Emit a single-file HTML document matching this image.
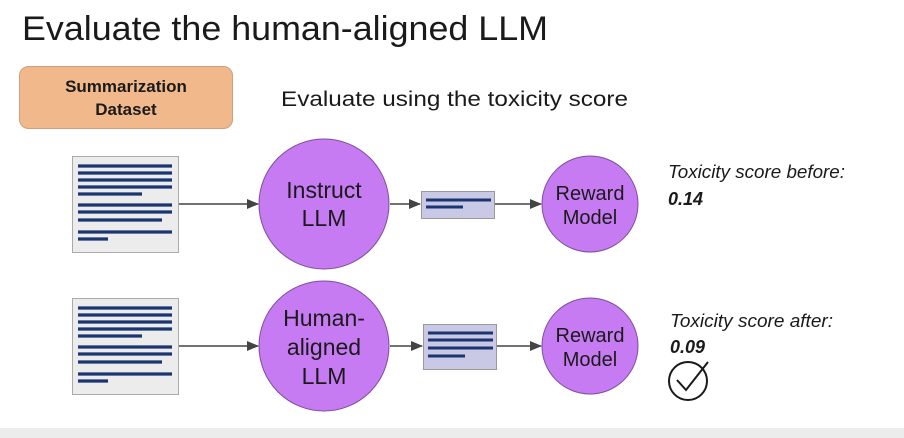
<!DOCTYPE html>
<html><head><meta charset="utf-8"><style>
html,body{margin:0;padding:0;background:#fff}
svg{display:block}
text{font-family:"Liberation Sans",sans-serif;fill:#1a1a1a}
</style></head><body>
<svg width="904" height="438" viewBox="0 0 904 438" xmlns="http://www.w3.org/2000/svg">
<defs><marker id="a" markerWidth="12" markerHeight="10" refX="11" refY="5" orient="auto" markerUnits="userSpaceOnUse"><path d="M0,0 L12,5 L0,10 z" fill="#444"/></marker></defs>
<rect x="0" y="0" width="904" height="438" fill="#fff"/>
<rect x="0" y="428" width="904" height="10" fill="#ececec"/>
<text x="22" y="40" font-size="34" textLength="526" lengthAdjust="spacingAndGlyphs">Evaluate the human-aligned LLM</text>
<rect x="19.5" y="66.5" width="213" height="62" rx="9" fill="#f1b98b" stroke="#c9a080"/>
<text x="126" y="92" font-size="17" font-weight="bold" text-anchor="middle">Summarization</text>
<text x="126" y="115" font-size="17" font-weight="bold" text-anchor="middle">Dataset</text>
<text x="281" y="106" font-size="21" textLength="347" lengthAdjust="spacingAndGlyphs">Evaluate using the toxicity score</text>

<g id="doc">
<rect x="72.5" y="156.5" width="106" height="96" fill="#ececec" stroke="#aaa"/>
<g stroke="#1a3570" stroke-width="3.2">
<line x1="78" y1="166" x2="172" y2="166"/><line x1="78" y1="173" x2="172" y2="173"/><line x1="78" y1="180" x2="172" y2="180"/><line x1="78" y1="187" x2="172" y2="187"/><line x1="78" y1="194" x2="142" y2="194"/>
<line x1="78" y1="205" x2="172" y2="205"/><line x1="78" y1="212" x2="172" y2="212"/><line x1="78" y1="220" x2="162" y2="220"/>
<line x1="78" y1="232" x2="172" y2="232"/><line x1="78" y1="239" x2="108" y2="239"/>
</g></g>
<use href="#doc" transform="translate(0,142)"/>

<g stroke="#444" stroke-width="1.5" marker-end="url(#a)">
<line x1="179" y1="204" x2="258" y2="204"/><line x1="390" y1="204" x2="420" y2="204"/><line x1="495" y1="204" x2="541" y2="204"/>
<line x1="179" y1="346" x2="258" y2="346"/><line x1="390" y1="346" x2="422" y2="346"/><line x1="497" y1="346" x2="541" y2="346"/>
</g>

<circle cx="324" cy="204" r="65" fill="#c77bf2" stroke="#7c4e99" stroke-width="1"/>
<circle cx="324" cy="346" r="65" fill="#c77bf2" stroke="#7c4e99" stroke-width="1"/>
<circle cx="590" cy="204" r="48" fill="#c77bf2" stroke="#7c4e99" stroke-width="1"/>
<circle cx="590" cy="346" r="48" fill="#c77bf2" stroke="#7c4e99" stroke-width="1"/>
<g font-size="23" text-anchor="middle">
<text x="324" y="198">Instruct</text><text x="324" y="226">LLM</text>
<text x="324" y="326">Human-</text><text x="324" y="355">aligned</text><text x="324" y="384">LLM</text>
</g>
<g font-size="20" text-anchor="middle">
<text x="590" y="200">Reward</text><text x="590" y="224">Model</text>
<text x="590" y="342">Reward</text><text x="590" y="366">Model</text>
</g>

<rect x="421.5" y="191.5" width="73" height="27" fill="#c9c9e6" stroke="#999"/>
<g stroke="#1a3570" stroke-width="3"><line x1="426" y1="200" x2="491" y2="200"/><line x1="426" y1="207" x2="463" y2="207"/></g>
<rect x="423.5" y="324.5" width="73" height="45" fill="#c9c9e6" stroke="#999"/>
<g stroke="#1a3570" stroke-width="3"><line x1="428" y1="333" x2="493" y2="333"/><line x1="428" y1="340" x2="493" y2="340"/><line x1="428" y1="348" x2="493" y2="348"/><line x1="428" y1="356" x2="465" y2="356"/></g>

<g font-size="18">
<text x="668" y="178" font-style="italic" textLength="177" lengthAdjust="spacingAndGlyphs">Toxicity score before:</text>
<text x="668" y="205" font-style="italic" font-weight="bold">0.14</text>
<text x="670" y="327" font-style="italic" textLength="163" lengthAdjust="spacingAndGlyphs">Toxicity score after:</text>
<text x="670" y="353" font-style="italic" font-weight="bold">0.09</text>
</g>
<circle cx="688" cy="381" r="19" fill="none" stroke="#1a1a1a" stroke-width="2"/>
<path d="M677,380 L686,390 L708,362" fill="none" stroke="#1a1a1a" stroke-width="2"/>
</svg>
</body></html>
